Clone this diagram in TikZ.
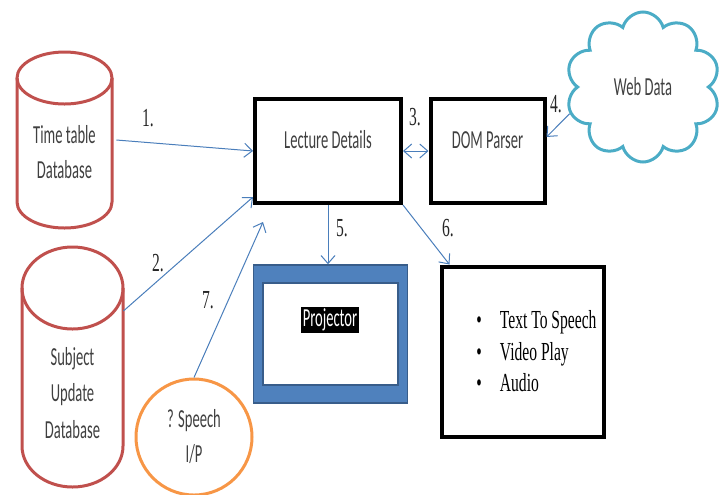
\documentclass[tikz,border=0pt]{standalone}
\usepackage{fontspec}
\setmainfont{Carlito}[FakeStretch=0.56]
\newfontfamily\timesfont{Liberation Serif}[FakeStretch=0.6]
\usetikzlibrary{shapes.geometric, shapes.symbols, arrows.meta, positioning, calc}
\definecolor{dbred}{HTML}{C0504D}
\definecolor{cloudblue}{HTML}{4BACC6}
\definecolor{speechorange}{HTML}{F79646}
\definecolor{projblue}{HTML}{4F81BD}
\definecolor{projedge}{HTML}{385D8A}
\definecolor{arrowblue}{HTML}{4A7EBB}
\definecolor{textgray}{HTML}{404040}

\begin{document}
\begin{tikzpicture}[x=0.5pt, y=-0.5pt,
  dbbody/.style={rectangle, inner sep=0pt},
  dbline/.style={draw=dbred, line width=1.5pt},
  dbtext/.style={font=\fontsize{13}{17.5}\selectfont, text=textgray, align=center},
  procbox/.style={rectangle, draw=black, line width=2pt, minimum height=52pt,
    font=\fontsize{13}{15}\selectfont, text=textgray, text height=9pt, text depth=12pt},
  arr/.style={-{Straight Barb[length=4pt,width=7pt]}, draw=arrowblue, line width=0.5pt},
  steplabel/.style={font=\timesfont\fontsize{13}{15}\selectfont, text=black!85},
]
  \useasboundingbox (0,0) rectangle (727,494);

  \node[dbbody, minimum width=47.5pt, minimum height=88pt] (ttdb) at (64.5,140) {};
  \draw[dbline] (17,78) -- (17,202) arc[start angle=180, end angle=0, x radius=47.5, y radius=26] -- (112,78);
  \draw[dbline] (64.5,78) ellipse[x radius=47.5, y radius=26];
  \node[dbtext] (ttdbtext) at (64.5,152) {Time table\\Database};

  \node[dbbody, minimum width=50.5pt, minimum height=120pt] (subdb) at (72.5,367) {};
  \draw[dbline] (22,288) -- (22,446) arc[start angle=180, end angle=0, x radius=50.5, y radius=41] -- (123,288);
  \draw[dbline] (72.5,288) ellipse[x radius=50.5, y radius=41];
  \node[dbtext, font=\fontsize{13}{18.25}\selectfont] (subdbtext) at (72.5,393) {Subject\\Update\\Database};

  \node[circle, draw=speechorange, line width=1.5pt, minimum size=58pt, dbtext] (speech) at (194,437) {? Speech\\I/P};

  \node[procbox, minimum width=73pt] (lecture) at (328,151) {Lecture Details};
  \node[procbox, minimum width=57pt] (dom) at (487.5,151) {DOM Parser};
  \node[cloud, cloud puffs=10, draw=cloudblue, line width=1.5pt, minimum width=77pt,
    minimum height=75pt, dbtext] (webdata) at (643,87) {Web Data};

  \node[rectangle, fill=projblue, draw=projedge, line width=0.75pt, minimum width=77pt,
    minimum height=69pt] (projector) at (330.5,334) {};
  \node[rectangle, fill=white, draw=projedge, line width=1pt, minimum width=67.5pt,
    minimum height=51pt] (screen) at (330.5,334) {};
  \node[fill=black, text=white, inner sep=1pt, font=\fontsize{13}{14}\selectfont] (projlabel) at (330,320) {Projector};

  \node[rectangle, draw=black, line width=2pt, minimum width=81pt, minimum height=85pt] (media) at (522.5,351.5) {};
  \node[align=left, font=\timesfont\fontsize{13}{15.75}\selectfont] (medialist) at (536.5,351.5) {
    \textbullet\hspace{9pt}Text To Speech\\
    \textbullet\hspace{9pt}Video Play\\
    \textbullet\hspace{9pt}Audio};

  \coordinate (speechend) at ([shift={(10,17)}]lecture.south west);
  \draw[arr] ([xshift=2pt]ttdb.east) -- (lecture.west);
  \draw[arr] ([yshift=28pt]subdb.east) -- ([yshift=4pt]lecture.south west);
  \draw[arr] (speech.north) -- (speechend);
  \draw[arr, {Straight Barb[length=4pt,width=7pt]}-{Straight Barb[length=4pt,width=7pt]}] (lecture.east) -- (dom.west);
  \draw[arr] (webdata.200) -- ([yshift=7pt]dom.east);
  \draw[arr] (lecture.south) -- (lecture.south |- projector.north);
  \draw[arr] (lecture.south east) -- ([xshift=5pt]media.north west);

  \node[steplabel] (l1) at (148,118) {1.};
  \node[steplabel] (l2) at (158,263) {2.};
  \node[steplabel] (l3) at (415,117) {3.};
  \node[steplabel] (l4) at (556,104) {4.};
  \node[steplabel] (l5) at (342,228) {5.};
  \node[steplabel] (l6) at (448,228) {6.};
  \node[steplabel] (l7) at (208,300) {7.};
\end{tikzpicture}
\end{document}
